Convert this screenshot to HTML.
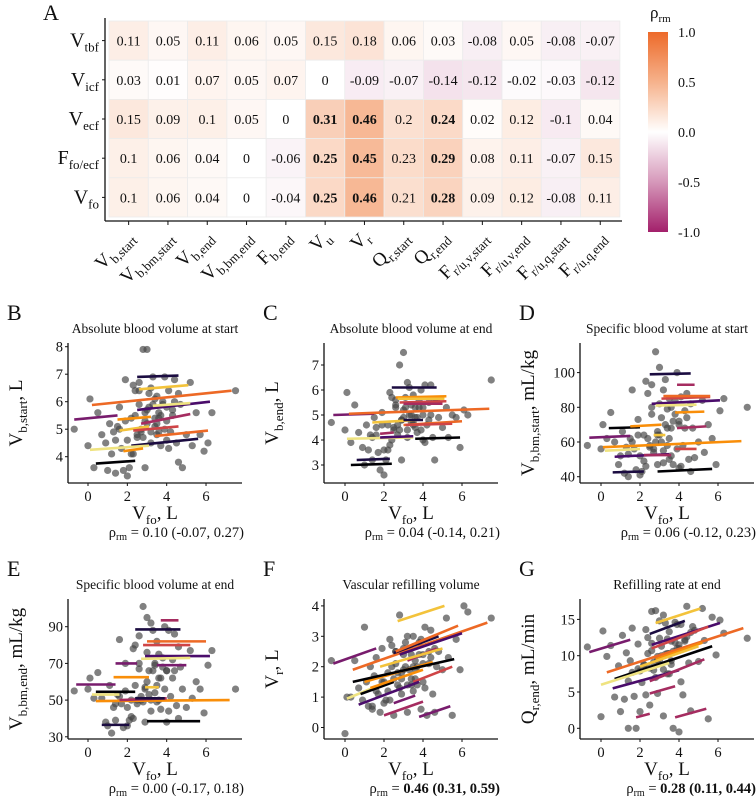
<!DOCTYPE html>
<html><head><meta charset="utf-8">
<style>
html,body{margin:0;padding:0;background:#fff;}
svg{display:block;font-family:"Liberation Serif","Times New Roman",serif;}
</style></head>
<body>
<svg id="fig" width="756" height="801" viewBox="0 0 756 801" xmlns="http://www.w3.org/2000/svg" font-family="Liberation Serif, serif">
<defs>
<linearGradient id="cbar" x1="0" y1="0" x2="0" y2="1">
<stop offset="0" stop-color="#ED6A2A"/>
<stop offset="0.25" stop-color="#F6B28C"/>
<stop offset="0.5" stop-color="#FFFFFF"/>
<stop offset="0.75" stop-color="#D698BA"/>
<stop offset="1" stop-color="#A3206B"/>
</linearGradient>
</defs>
</svg>
<script>
// ---------- Heatmap data ----------
const rowNames = [["V","tbf"],["V","icf"],["V","ecf"],["F","fo/ecf"],["V","fo"]];
const colNames = [["V","b,start"],["V","b,bm,start"],["V","b,end"],["V","b,bm,end"],["F","b,end"],["V","u"],["V","r"],["Q","r,start"],["Q","r,end"],["F","r/u,v,start"],["F","r/u,v,end"],["F","r/u,q,start"],["F","r/u,q,end"]];
const rowTbf = [0.11,0.05,0.11,0.06,0.05,0.15,0.18,0.06,0.03,-0.08,0.05,-0.08,-0.07];
const rowIcf = [0.03,0.01,0.07,0.05,0.07,0,-0.09,-0.07,-0.14,-0.12,-0.02,-0.03,-0.12];
const rowEcf = [0.15,0.09,0.1,0.05,0,0.31,0.46,0.2,0.24,0.02,0.12,-0.1,0.04];
const rowFoEcf = [0.1,0.06,0.04,0,-0.06,0.25,0.45,0.23,0.29,0.08,0.11,-0.07,0.15];
const rowFo = [0.1,0.06,0.04,0,-0.04,0.25,0.46,0.21,0.28,0.09,0.12,-0.08,0.11];
const boldEcf = [5,6,8];
const boldFoEcf = [5,6,8];
const boldFo = [5,6,8];
const cbTicks = [1.0,0.5,0.0,-0.5,-1.0];
const cbTickLabels = ["1.0","0.5","0.0","-0.5","-1.0"];

// ---------- Scatter data ----------
const vfo = [-0.7,0.0,0.1,0.3,0.5,0.7,0.9,1.0,1.1,1.2,1.3,1.4,1.5,1.6,1.7,1.8,1.9,2.0,2.0,2.1,2.2,2.3,2.4,2.5,2.6,2.7,2.8,2.9,3.0,3.0,3.1,3.2,3.2,3.3,3.4,3.5,3.5,3.6,3.7,3.8,3.9,4.0,4.0,4.1,4.2,4.3,4.4,4.5,4.6,4.7,4.8,5.0,5.2,5.3,5.5,5.7,6.1,6.3,7.5,2.6,
  2.2,2.4,2.6,2.8,2.9,3.1,3.3,3.4,3.6,3.7,3.9,4.1,4.3,1.9,2.7,3.0,3.5,3.8,4.4,1.6,2.3,3.2,3.6,4.0,4.6,2.5,2.9,3.4,1.4,5.9];
const yB = [5.0,4.4,6.1,3.6,5.6,4.8,4.5,3.5,5.2,4.1,4.9,3.4,5.1,5.8,4.3,3.5,6.8,3.3,4.6,3.6,4.1,6.6,5.5,4.8,6.4,5.0,7.9,3.6,7.9,5.2,5.8,6.5,4.5,6.9,5.4,6.2,4.8,5.6,4.4,6.0,5.0,5.3,4.6,6.4,4.9,5.7,6.8,4.5,3.8,5.9,3.6,4.8,6.7,4.4,5.6,4.8,4.5,5.6,6.4,6.7,
  5.4,6.4,5.9,4.7,5.6,6.3,5.9,5.1,4.9,5.5,6.9,4.3,5.5,5.3,4.9,5.7,5.2,5.9,6.0,5.0,4.1,4.9,5.4,5.8,6.3,4.7,5.3,6.1,4.6,4.2];
const yC = [4.7,4.4,5.9,3.9,5.4,4.3,3.7,3.0,4.6,3.6,4.2,3.2,4.9,4.2,3.5,2.8,5.1,2.6,3.6,3.2,3.6,5.9,4.0,4.5,5.6,4.2,7.0,3.2,7.5,4.9,5.3,6.3,4.1,6.1,5.0,5.8,4.6,5.3,4.3,5.6,4.4,5.0,4.0,6.2,4.6,5.5,6.2,4.1,3.2,5.6,4.9,4.5,5.3,4.1,5.0,4.9,5.2,5.0,6.4,5.4,
  4.6,5.7,5.3,4.4,4.8,5.7,5.0,4.7,4.5,4.9,6.0,3.9,4.8,4.6,4.6,5.2,4.7,5.3,5.0,4.5,3.8,4.4,4.9,5.3,5.6,4.4,4.8,5.4,4.1,3.7];
const yD = [58,56,70,62,77,60,47,52,66,42,57,40,62,90,56,44,73,41,52,43,49,95,62,58,80,54,112,47,103,64,60,90,48,96,68,85,50,80,47,84,56,70,45,86,58,78,88,50,43,68,51,60,84,54,70,62,78,85,80,93,
  64,88,76,60,66,74,70,58,52,72,100,46,68,64,56,82,62,76,74,60,46,55,68,72,82,57,64,79,53,47];
const yE = [55,56,62,51,65,51,38,36,58,32,46,39,53,83,48,35,70,36,46,39,41,78,58,48,85,52,101,38,95,60,53,92,44,88,69,82,49,75,45,73,56,66,38,88,52,72,86,47,40,68,56,46,77,51,60,56,69,77,56,67,
  50,80,70,49,57,66,66,54,50,62,90,44,62,55,50,76,58,68,66,52,40,50,62,66,79,50,56,70,48,43];
const yF = [2.2,-0.2,1.0,1.0,2.2,1.3,0.9,3.3,1.5,0.7,2.0,0.6,1.7,2.3,1.1,0.5,2.6,0.8,1.5,0.9,1.2,2.9,2.0,0.4,2.5,1.4,3.7,1.1,2.4,1.9,2.8,3.0,0.5,2.6,1.6,3.0,1.2,2.2,1.4,2.8,0.6,2.4,1.5,3.3,0.4,2.5,3.2,1.1,0.5,2.0,2.5,1.9,3.6,2.3,0.4,2.9,4.0,3.8,3.6,2.5,
  1.8,2.7,2.1,1.3,1.6,2.0,1.9,1.4,1.6,2.0,2.9,1.3,2.1,1.5,1.8,2.6,2.0,2.4,2.3,1.2,0.9,1.4,1.9,2.1,2.6,1.6,1.8,2.4,0.7,1.9];
const yG = [11.2,1.6,13.4,9.9,11.4,4.3,8.6,2.3,12.8,4.0,10.4,0.0,9.3,13.8,4.4,0.0,11.6,2.3,7.9,6.3,8.8,13.6,10.3,3.2,16.1,8.0,16.2,4.8,14.8,9.4,10.0,15.6,1.7,14.5,10.3,13.3,7.5,12.0,0.0,14.6,11.0,11.5,-0.5,14.3,4.6,12.0,16.8,9.0,2.4,14.0,13.5,9.2,16.5,12.1,1.3,15.3,14.9,13.1,12.4,11.7,
  8.7,12.5,10.7,7.0,9.4,11.3,10.2,7.5,8.8,10.6,14.3,6.4,12.2,8.2,9.1,12.4,10.3,11.8,12.6,7.7,4.6,8.1,9.3,11.0,13.2,8.3,9.9,12.3,6.5,10.1];

// per-subject fitted lines: start x, end x, start y, end y, colour index
const lnB_x1 = [0.2,2.6,2.5,3.3,-0.7,1.5,2.7,1.6,2.3,3.4,2.2,0.1,1.8,0.4,2.5];
const lnB_x2 = [7.3,5.1,6.2,5.2,1.5,3.2,5.2,3.1,4.6,6.1,5.6,3.1,2.8,2.4,4.6];
const lnB_y1 = [5.88,6.45,5.7,5.85,5.35,5.35,5.2,4.95,4.95,4.75,4.4,4.25,4.2,3.75,6.9];
const lnB_y2 = [6.4,6.6,6.0,5.95,5.5,5.45,5.55,5.1,5.1,4.95,4.65,4.4,4.3,3.85,6.95];
const lnB_c = [6,8,2,9,3,7,4,8,5,6,1,9,7,0,1];

const lnC_x1 = [2.4,-0.6,0.2,2.6,2.7,2.8,3.0,1.4,3.0,3.1,3.0,1.8,0.1,1.8,3.6,0.6,0.3];
const lnC_x2 = [4.7,1.5,7.4,5.2,5.1,5.2,5.0,3.7,6.0,5.5,4.0,2.5,3.5,3.5,5.9,2.3,2.4];
const lnC_y1 = [6.1,5.0,5.05,5.7,5.65,5.5,5.45,4.7,4.6,4.6,4.8,4.25,4.05,4.1,4.05,3.2,3.0];
const lnC_y2 = [6.1,5.05,5.25,5.75,5.65,5.55,5.45,4.8,4.75,4.65,4.8,4.3,4.1,4.15,4.1,3.25,3.05];
const lnC_c = [1,3,6,7,8,5,4,8,6,5,1,4,9,2,0,1,0];

const lnD_x1 = [2.5,3.9,3.1,3.2,2.6,2.8,3.8,0.4,1.5,3.9,-0.6,2.7,0.1,0.2,3.8,0.7,2.2,0.6,2.9];
const lnD_x2 = [4.6,4.8,5.6,5.6,6.1,4.9,5.3,2.0,3.1,5.4,1.5,3.3,7.2,2.0,4.9,3.5,3.6,2.2,5.7];
const lnD_y1 = [99,93,85,86.5,82,81,77,68,69,68,62.5,64,57,55,56,51.5,52.5,42.5,43];
const lnD_y2 = [99.5,93,86,86.5,84,81.5,77.5,68.5,70,69,63.5,64,60.5,56,56,53,52.5,43,44.5];
const lnD_c = [1,4,5,6,2,9,7,0,7,4,3,8,7,9,5,2,4,1,0];

const lnE_x1 = [3.7,2.4,3.0,2.8,2.9,2.7,3.5,1.4,1.3,2.9,-0.6,0.4,0.2,0.4,1.6,2.4,0.7,3.0];
const lnE_x2 = [4.6,4.7,6.0,5.2,6.2,5.2,5.0,2.5,3.1,3.6,1.4,2.4,1.6,7.2,4.0,3.9,2.1,5.7];
const lnE_y1 = [93.5,88.5,82,80,74,72.5,69,70,62.5,57,58.5,54.5,53,49.5,50,51,36.5,38.5];
const lnE_y2 = [93.5,88.5,82,80,74,73,69,70,62.5,57,58.5,54.5,53,50,51,51,36.5,38.5];
const lnE_c = [4,1,6,5,2,9,3,3,7,8,3,0,9,7,4,1,1,0];

const lnF_x1 = [2.7,0.4,-0.6,2.5,2.8,2.6,3.2,1.8,1.0,0.1,0.4,0.8,1.3,3.5,0.7,2.0,2.5,3.8];
const lnF_x2 = [5.1,7.3,1.6,4.8,6.0,5.8,4.7,5.0,4.5,1.8,5.6,2.5,4.0,5.5,3.8,4.0,3.6,5.4];
const lnF_y1 = [3.5,1.9,2.1,2.45,2.4,2.5,2.2,2.0,1.5,0.95,1.5,1.1,1.3,1.5,0.75,0.4,0.8,0.35];
const lnF_y2 = [4.0,3.45,2.6,3.0,3.1,3.35,2.6,2.6,2.15,1.4,2.25,1.5,1.9,2.0,1.5,0.85,1.05,0.7];
const lnF_c = [8,6,3,1,2,6,4,8,7,9,0,0,7,5,2,4,3,3];

const lnG_x1 = [2.8,2.5,2.6,0.3,-0.6,2.6,2.8,2.0,0.7,0.0,0.6,2.5,2.5,1.8,3.8];
const lnG_x2 = [5.1,4.3,6.1,7.3,1.5,5.5,5.2,5.0,5.7,3.5,4.0,5.3,3.8,2.5,5.4];
const lnG_y1 = [14.5,13,11.5,7.7,10.5,11,9.5,8.5,6.8,6,5.5,6.5,4.8,1.5,1.5];
const lnG_y2 = [16.5,14.8,14.5,13.8,12.2,14,11.8,11.3,11.3,9,8,9.5,5.8,2.0,2.7];
const lnG_c = [8,1,2,6,3,5,7,8,0,9,2,4,4,4,4];

const palette = ["#000004","#1B0C41","#4A0C6B","#781C6D","#A52C60","#CF4446","#ED6925","#F98E09","#F3C33B","#EFE380"];

const NS = "http://www.w3.org/2000/svg";
const svg = document.getElementById("fig");
function mk(tag, attrs, parent){
  const e = document.createElementNS(NS, tag);
  for (const k in attrs) e.setAttribute(k, attrs[k]);
  (parent||svg).appendChild(e);
  return e;
}
function subText(parent, x, y, main, sub, size, subSize, anchor, extra){
  const t = mk("text", Object.assign({x:x, y:y, "font-size":size, "text-anchor":anchor||"start", fill:"#111"}, extra||{}), parent);
  const a = document.createElementNS(NS,"tspan"); a.textContent = main; t.appendChild(a);
  const b = document.createElementNS(NS,"tspan"); b.setAttribute("font-size", subSize); b.setAttribute("dy", Math.round(subSize*0.35)); b.textContent = sub; t.appendChild(b);
  return t;
}
function lerp(a,b,t){return Math.round(a+(b-a)*t);}
function colorFor(v){
  let c0,c1,t;
  if (v>=0){
    if (v<=0.5){c0=[255,255,255];c1=[246,178,140];t=v/0.5;}
    else {c0=[246,178,140];c1=[237,106,42];t=(v-0.5)/0.5;}
  } else {
    const a=-v;
    if (a<=0.5){c0=[255,255,255];c1=[214,152,186];t=a/0.5;}
    else {c0=[214,152,186];c1=[163,32,107];t=(a-0.5)/0.5;}
  }
  return "rgb("+lerp(c0[0],c1[0],t)+","+lerp(c0[1],c1[1],t)+","+lerp(c0[2],c1[2],t)+")";
}

// ---------- Heatmap ----------
(function(){
  const rows = [rowTbf,rowIcf,rowEcf,rowFoEcf,rowFo];
  const bolds = [[],[],boldEcf,boldFoEcf,boldFo];
  const x0=109, y0=21, cw=39.3, rh=39.2, axX=105, axY=221;
  const colX = i => x0 + cw*i;
  const rowY = j => y0 + rh*j;
  const g = mk("g",{});
  
  
  const lab = mk("text",{x:43,y:20,"font-size":22,fill:"#111"});
  lab.textContent="A";
  
  
  rows.forEach((vals,j)=>{
    vals.forEach((v,i)=>{
      const r = mk("rect",{x:colX(i),y:rowY(j),width:cw,height:rh,fill:colorFor(v),stroke:"#ececec","stroke-width":0.8},g);
      
      
      const t = mk("text",{x:colX(i)+cw/2,y:rowY(j)+rh/2+5,"font-size":14,"text-anchor":"middle",fill:"#111","font-weight":bolds[j].indexOf(i)>=0?"bold":"normal"},g);
      t.textContent = String(v);
      
      
    });
  });
  const ya = mk("line",{x1:axX,y1:18,x2:axX,y2:axY,stroke:"#111","stroke-width":1.3},g);
  
  
  const xa = mk("line",{x1:axX,y1:axY,x2:622,y2:axY,stroke:"#111","stroke-width":1.3},g);
  
  
  rowNames.forEach((n,j)=>{
    const cy = rowY(j)+rh/2;
    mk("line",{x1:axX-3,y1:cy,x2:axX,y2:cy,stroke:"#111","stroke-width":1},g);
    const t = subText(g, 99, cy+6, n[0], n[1], 20, 13, "end");
    
    
  });
  colNames.forEach((n,i)=>{
    const cx = colX(i)+cw/2;
    mk("line",{x1:cx,y1:axY,x2:cx,y2:axY+4,stroke:"#111","stroke-width":1},g);
    const t = subText(g, cx+6, 238, n[0], n[1], 19, 13, "end", {transform:"rotate(-45 "+(cx+6)+" 238)"});
    
    
  });
  const cb = mk("rect",{x:648,y:32,width:20,height:200,fill:"url(#cbar)"});
  
  
  const cbY = v => 132 - v*100;
  cbTicks.forEach((v,k)=>{
    const t = mk("text",{x:678,y:cbY(v)+5,"font-size":14,fill:"#111"});
    t.textContent = cbTickLabels[k];
    
    
  });
  const ct = subText(svg, 650, 18, "ρ", "rm", 17, 11, "start");
  
  
})();

// ---------- Scatter panels ----------
function panel(cfg){
  const g = mk("g",{});
  
  
  const sx = x => cfg.x0 + x*cfg.ux;
  const sy = v => cfg.yRefPx - (v-cfg.yRef)*cfg.uy;
  const bottom = cfg.top + 140;
  const L = mk("text",{x:cfg.ax-61,y:cfg.top-23,"font-size":22,fill:"#111"},g);
  L.textContent = cfg.letter;
  
  
  const T = mk("text",{x:(cfg.ax+cfg.right)/2,y:cfg.top-10,"font-size":13.5,"text-anchor":"middle",fill:"#111"},g);
  T.textContent = cfg.title;
  
  
  cfg.ys.forEach((v,i)=>{
    const c = mk("circle",{cx:sx(vfo[i]),cy:sy(v),r:3.6,fill:"rgba(70,70,70,0.68)"},g);
    
    
  });
  cfg.lx1.forEach((x1,i)=>{
    const l = mk("line",{x1:sx(x1),y1:sy(cfg.ly1[i]),x2:sx(cfg.lx2[i]),y2:sy(cfg.ly2[i]),stroke:palette[cfg.lc[i]],"stroke-width":2.6},g);
    
    
  });
  const ya = mk("line",{x1:cfg.ax,y1:cfg.top,x2:cfg.ax,y2:bottom,stroke:"#111","stroke-width":1.3},g);
  
  
  const xa = mk("line",{x1:cfg.ax,y1:bottom,x2:cfg.right,y2:bottom,stroke:"#111","stroke-width":1.3},g);
  
  
  [0,2,4,6].forEach(v=>{
    mk("line",{x1:sx(v),y1:bottom,x2:sx(v),y2:bottom+3,stroke:"#111"},g);
    const t = mk("text",{x:sx(v),y:bottom+18,"font-size":14.5,"text-anchor":"middle",fill:"#111"},g);
    t.textContent = String(v);
    
    
  });
  cfg.yticks.forEach(v=>{
    mk("line",{x1:cfg.ax-3,y1:sy(v),x2:cfg.ax,y2:sy(v),stroke:"#111"},g);
    const t = mk("text",{x:cfg.ax-5,y:sy(v)+5,"font-size":14.5,"text-anchor":"end",fill:"#111"},g);
    t.textContent = String(v);
    
    
  });
  const xt = subText(g, (cfg.ax+cfg.right)/2, bottom+36, "V", "fo", 19, 13, "middle");
  const comma = document.createElementNS(NS,"tspan"); comma.setAttribute("dy",-5); comma.textContent=", L"; xt.appendChild(comma);
  
  
  const ycx = cfg.ax-46, ycy = cfg.top+70;
  const yt = mk("text",{x:ycx,y:ycy,"font-size":19,"text-anchor":"middle",fill:"#111",transform:"rotate(-90 "+ycx+" "+ycy+")"},g);
  const a = document.createElementNS(NS,"tspan"); a.textContent = cfg.yMain; yt.appendChild(a);
  const b = document.createElementNS(NS,"tspan"); b.setAttribute("font-size",13); b.setAttribute("dy",5); b.textContent = cfg.ySub; yt.appendChild(b);
  const c2 = document.createElementNS(NS,"tspan"); c2.setAttribute("dy",-5); c2.textContent = cfg.yUnit; yt.appendChild(c2);
  
  
  const rt = mk("text",{x:cfg.right+2,y:bottom+54,"font-size":14.5,"text-anchor":"end",fill:"#111"},g);
  const r1 = document.createElementNS(NS,"tspan"); r1.textContent="ρ"; rt.appendChild(r1);
  const r2 = document.createElementNS(NS,"tspan"); r2.setAttribute("font-size",10); r2.setAttribute("dy",3); r2.textContent="rm"; rt.appendChild(r2);
  const r3 = document.createElementNS(NS,"tspan"); r3.setAttribute("dy",-3); r3.textContent=" = "; rt.appendChild(r3);
  const r4 = document.createElementNS(NS,"tspan"); r4.textContent=cfg.rho; if (cfg.bold) r4.setAttribute("font-weight","bold"); rt.appendChild(r4);
  
  
}

panel({name:"panel-b",letter:"B",title:"Absolute blood volume at start",ax:68,right:242,x0:88,ux:19.67,top:343,yRef:6,yRefPx:401.7,uy:27.5,yticks:[4,5,6,7,8],ys:yB,lx1:lnB_x1,lx2:lnB_x2,ly1:lnB_y1,ly2:lnB_y2,lc:lnB_c,yMain:"V",ySub:"b,start",yUnit:", L",rho:"0.10 (-0.07, 0.27)",bold:false});
panel({name:"panel-c",letter:"C",title:"Absolute blood volume at end",ax:324,right:498,x0:345,ux:19.5,top:343,yRef:6,yRefPx:390,uy:25,yticks:[3,4,5,6,7],ys:yC,lx1:lnC_x1,lx2:lnC_x2,ly1:lnC_y1,ly2:lnC_y2,lc:lnC_c,yMain:"V",ySub:"b,end",yUnit:", L",rho:"0.04 (-0.14, 0.21)",bold:false});
panel({name:"panel-d",letter:"D",title:"Specific blood volume at start",ax:580,right:754,x0:601,ux:19.5,top:343,yRef:80,yRefPx:407.3,uy:1.735,yticks:[40,60,80,100],ys:yD,lx1:lnD_x1,lx2:lnD_x2,ly1:lnD_y1,ly2:lnD_y2,lc:lnD_c,yMain:"V",ySub:"b,bm,start",yUnit:", mL/kg",rho:"0.06 (-0.12, 0.23)",bold:false});
panel({name:"panel-e",letter:"E",title:"Specific blood volume at end",ax:68,right:242,x0:88,ux:19.67,top:599,yRef:90,yRefPx:626.7,uy:1.835,yticks:[30,50,70,90],ys:yE,lx1:lnE_x1,lx2:lnE_x2,ly1:lnE_y1,ly2:lnE_y2,lc:lnE_c,yMain:"V",ySub:"b,bm,end",yUnit:", mL/kg",rho:"0.00 (-0.17, 0.18)",bold:false});
panel({name:"panel-f",letter:"F",title:"Vascular refilling volume",ax:324,right:498,x0:345,ux:19.5,top:599,yRef:0,yRefPx:727.5,uy:30.4,yticks:[0,1,2,3,4],ys:yF,lx1:lnF_x1,lx2:lnF_x2,ly1:lnF_y1,ly2:lnF_y2,lc:lnF_c,yMain:"V",ySub:"r",yUnit:", L",rho:"0.46 (0.31, 0.59)",bold:true});
panel({name:"panel-g",letter:"G",title:"Refilling rate at end",ax:580,right:754,x0:601,ux:19.5,top:599,yRef:0,yRefPx:728.3,uy:7.26,yticks:[0,5,10,15],ys:yG,lx1:lnG_x1,lx2:lnG_x2,ly1:lnG_y1,ly2:lnG_y2,lc:lnG_c,yMain:"Q",ySub:"r,end",yUnit:", mL/min",rho:"0.28 (0.11, 0.44)",bold:true});
</script>
</body></html>
